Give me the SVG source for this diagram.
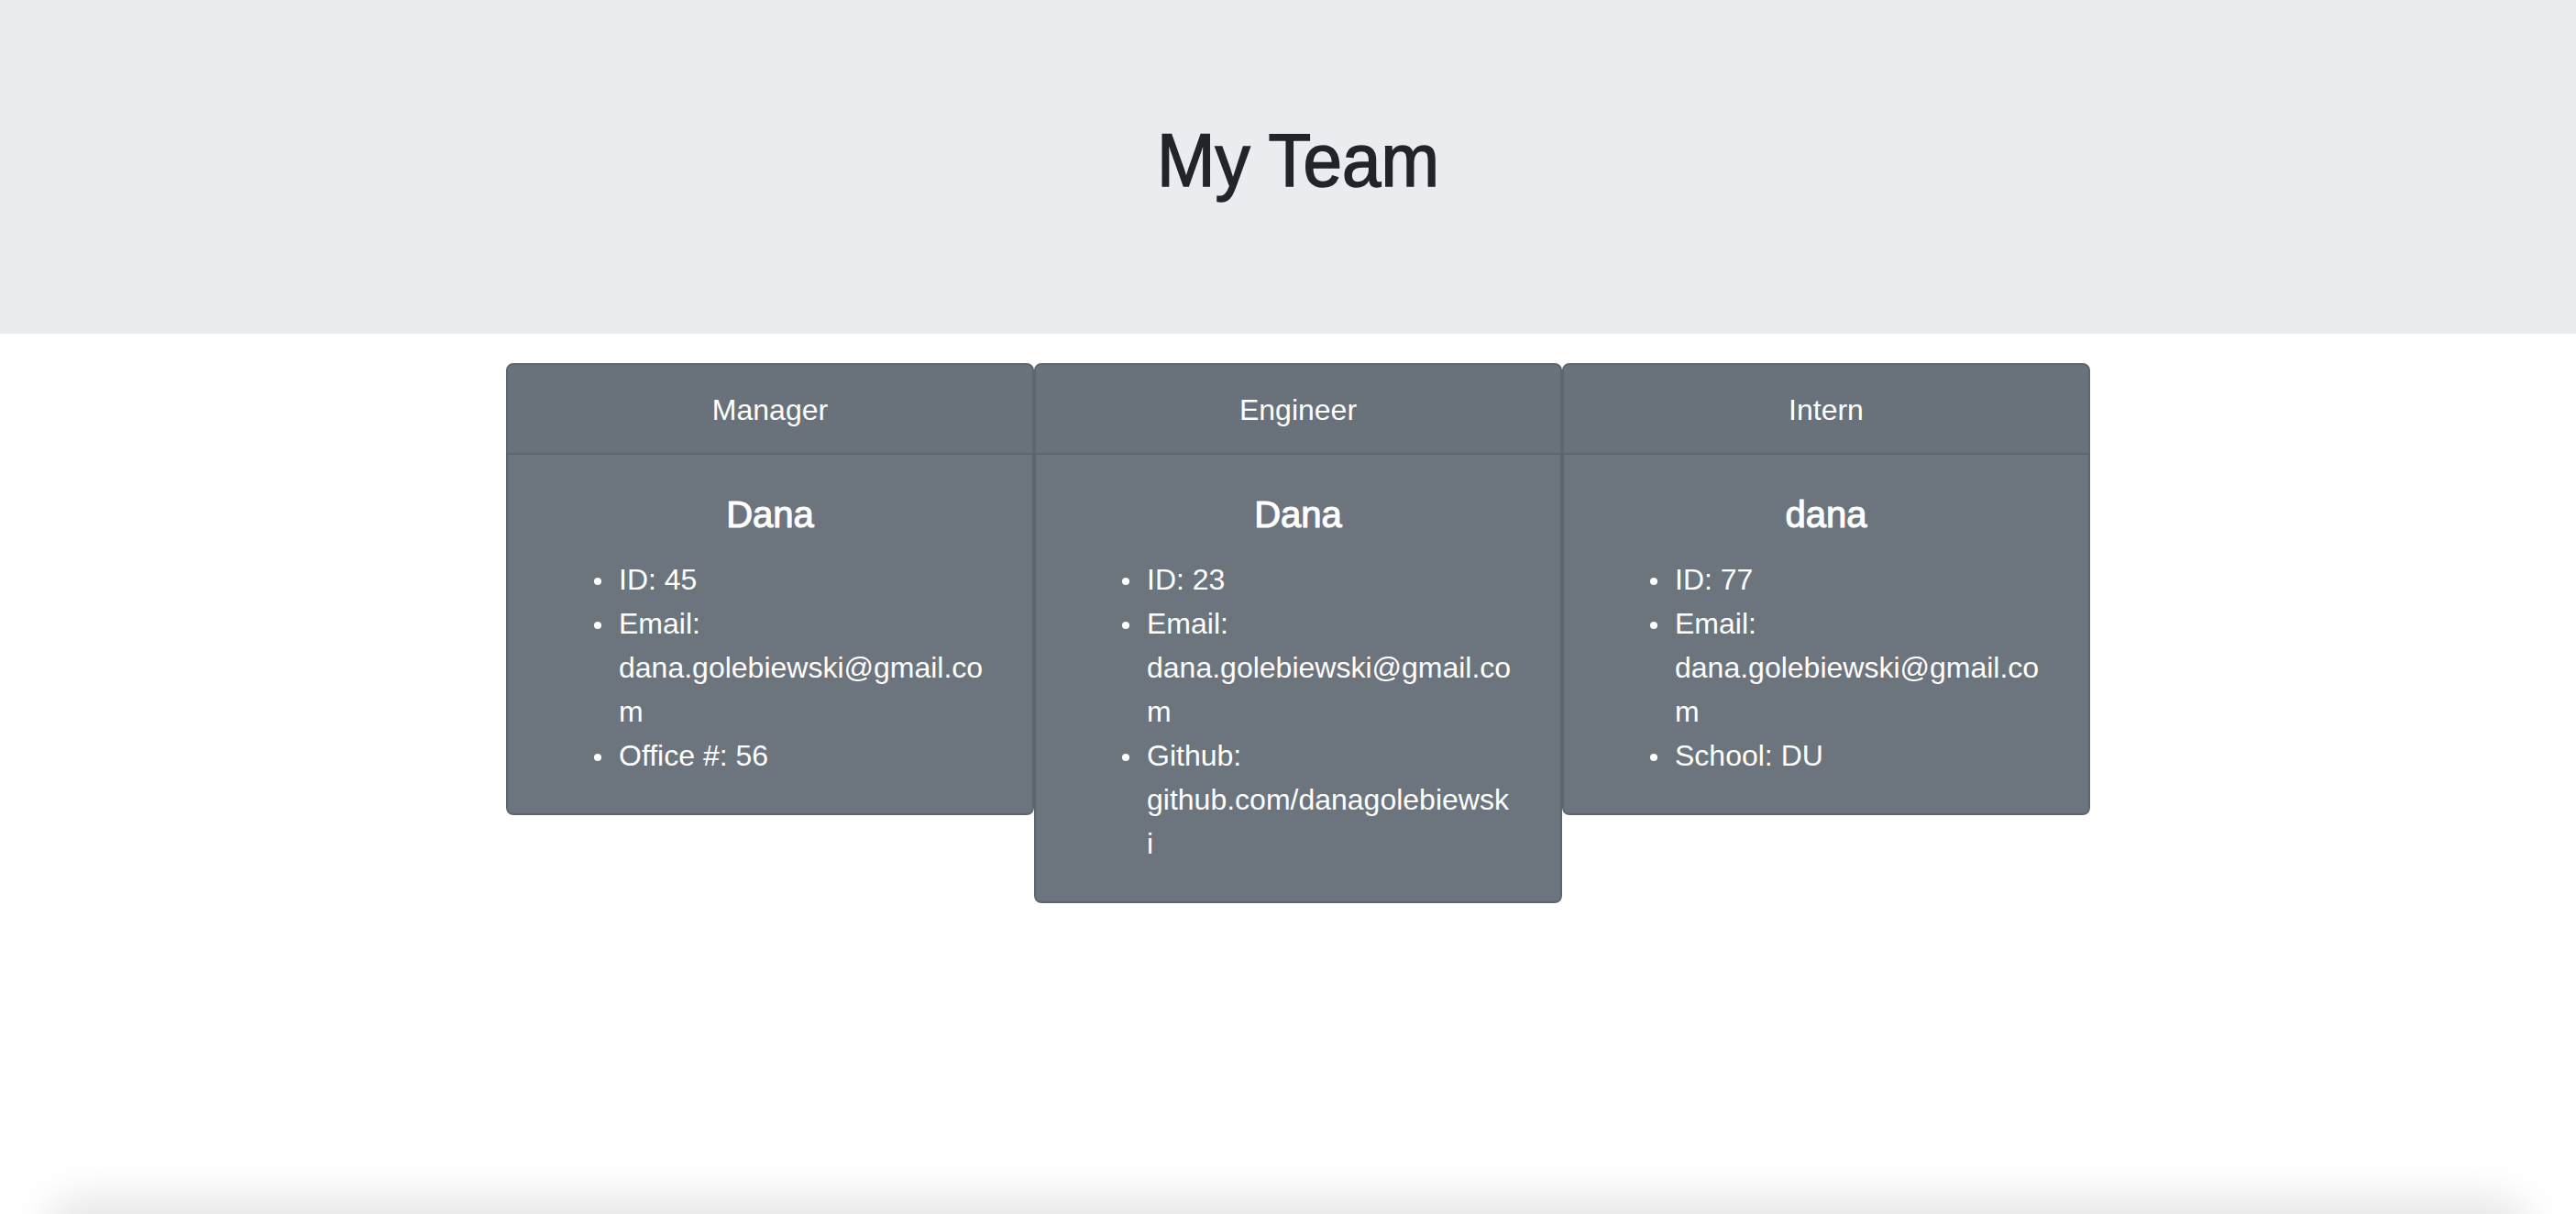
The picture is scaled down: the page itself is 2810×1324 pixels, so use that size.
<svg xmlns="http://www.w3.org/2000/svg" width="2810" height="1324" viewBox="0 0 2810 1324">
  <defs>
    <style>
      .t { font-family: "Liberation Sans", Arial, sans-serif; fill: #ffffff; }
      .title { font-family: "Liberation Sans", Arial, sans-serif; fill: #212529; stroke: #212529; stroke-width: 1.6; font-size: 81px; }
      .hdr { font-size: 32px; text-anchor: middle; }
      .name { font-size: 40px; text-anchor: middle; stroke: #ffffff; stroke-width: 1.1; }
      .li { font-size: 32px; }
      .card { fill: #6c757d; stroke: #5e666d; stroke-width: 2; }
      .chead { fill: #69717a; }
      .sep { stroke: #5e666d; stroke-width: 2; }
      .dot { fill: #ffffff; }
    </style>
    <filter id="sh" filterUnits="userSpaceOnUse" x="0" y="1150" width="2810" height="250">
      <feGaussianBlur stdDeviation="22"/>
    </filter>
  </defs>

  <rect x="0" y="0" width="2810" height="1324" fill="#ffffff"/>

  <g id="jumbotron">
    <rect x="0" y="0" width="2810" height="364" fill="#eaecf0"/>
    <text class="title" x="1416" y="203" text-anchor="middle" textLength="308" lengthAdjust="spacingAndGlyphs">My Team</text>
  </g>

  <g id="card-manager">
    <rect class="card" x="553" y="397" width="574" height="491" rx="7"/>
    <path class="chead" d="M554,494 V405 Q554,398 561,398 H1119 Q1126,398 1126,405 V494 Z"/>
    <line class="sep" x1="553" y1="495" x2="1127" y2="495"/>
    <text class="t hdr" x="840" y="458">Manager</text>
    <text class="t name" x="840" y="575">Dana</text>
    <circle class="dot" cx="652" cy="634" r="4"/>
    <text class="t li" x="675" y="643">ID: 45</text>
    <circle class="dot" cx="652" cy="682" r="4"/>
    <text class="t li" x="675" y="691">Email:</text>
    <text class="t li" x="675" y="739">dana.golebiewski@gmail.co</text>
    <text class="t li" x="675" y="787">m</text>
    <circle class="dot" cx="652" cy="826" r="4"/>
    <text class="t li" x="675" y="835">Office #: 56</text>
  </g>

  <g id="card-engineer">
    <rect class="card" x="1129" y="397" width="574" height="587" rx="7"/>
    <path class="chead" d="M1130,494 V405 Q1130,398 1137,398 H1695 Q1702,398 1702,405 V494 Z"/>
    <line class="sep" x1="1129" y1="495" x2="1703" y2="495"/>
    <text class="t hdr" x="1416" y="458">Engineer</text>
    <text class="t name" x="1416" y="575">Dana</text>
    <circle class="dot" cx="1228" cy="634" r="4"/>
    <text class="t li" x="1251" y="643">ID: 23</text>
    <circle class="dot" cx="1228" cy="682" r="4"/>
    <text class="t li" x="1251" y="691">Email:</text>
    <text class="t li" x="1251" y="739">dana.golebiewski@gmail.co</text>
    <text class="t li" x="1251" y="787">m</text>
    <circle class="dot" cx="1228" cy="826" r="4"/>
    <text class="t li" x="1251" y="835">Github:</text>
    <text class="t li" x="1251" y="883">github.com/danagolebiewsk</text>
    <text class="t li" x="1251" y="931">i</text>
  </g>

  <g id="card-intern">
    <rect class="card" x="1705" y="397" width="574" height="491" rx="7"/>
    <path class="chead" d="M1706,494 V405 Q1706,398 1713,398 H2271 Q2278,398 2278,405 V494 Z"/>
    <line class="sep" x1="1705" y1="495" x2="2279" y2="495"/>
    <text class="t hdr" x="1992" y="458">Intern</text>
    <text class="t name" x="1992" y="575">dana</text>
    <circle class="dot" cx="1804" cy="634" r="4"/>
    <text class="t li" x="1827" y="643">ID: 77</text>
    <circle class="dot" cx="1804" cy="682" r="4"/>
    <text class="t li" x="1827" y="691">Email:</text>
    <text class="t li" x="1827" y="739">dana.golebiewski@gmail.co</text>
    <text class="t li" x="1827" y="787">m</text>
    <circle class="dot" cx="1804" cy="826" r="4"/>
    <text class="t li" x="1827" y="835">School: DU</text>
  </g>

  <g id="connectors"/>

  <g id="bottom-shadow">
    <rect x="50" y="1305" width="2710" height="90" rx="40" fill="#e6e6e6" filter="url(#sh)"/>
  </g>
</svg>
